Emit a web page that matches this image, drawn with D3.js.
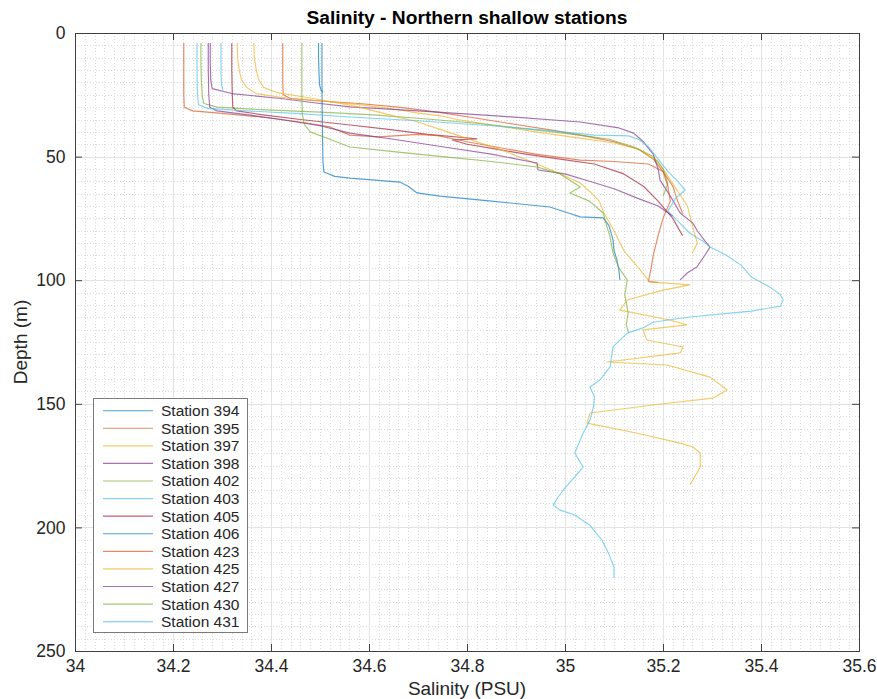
<!DOCTYPE html>
<html>
<head>
<meta charset="utf-8">
<script src="https://cdn.jsdelivr.net/npm/d3@7"></script>
<style>
  html, body { margin: 0; padding: 0; background: #ffffff; }
  svg { display: block; font-family: "Liberation Sans", Arial, Helvetica, sans-serif; }
</style>
</head>
<body>
<svg id="chart" width="877" height="699"></svg>
<script>
// Station names, in plotting order
const stationNames = ["Station 394", "Station 395", "Station 397", "Station 398", "Station 402",
  "Station 403", "Station 405", "Station 406", "Station 423", "Station 425", "Station 427",
  "Station 430", "Station 431"];

// CTD salinity profiles: [depth (m), salinity (PSU)]
const st394 = [[4,34.497],[10,34.497],[16,34.498],[21,34.499],[23,34.502],[24,34.506]];
const st395 = [[4,34.424],[12,34.424],[20,34.424],[25,34.425],[26.5,34.44],[27.5,34.5],[28.5,34.58],[30,34.66],[32,34.74],[34.5,34.82],[37,34.9],[39.5,34.98],[42,35.05],[44,35.1],[47,35.15],[51,35.18],[56,35.2],[62,35.22],[68,35.23],[73,35.24]];
const st397 = [[4,34.331],[10,34.332],[15,34.335],[19,34.34],[22,34.35],[24.5,34.37],[26,34.42],[27.5,34.5],[29,34.58],[31,34.66],[32.4,34.70],[33.5,34.745],[35,34.78],[37.5,34.86],[40,34.94],[42.5,35.03],[44.5,35.1],[47,35.15],[52,35.19],[58,35.21],[64,35.23],[70,35.25],[78,35.26],[85,35.27],[89,35.26]];
const st398 = [[4,34.276],[12,34.276],[19,34.277],[22.5,34.28],[24.5,34.32],[26.5,34.42],[28.5,34.5],[29.9,34.561],[31.5,34.7],[33.5,34.86],[36,35.031],[38.4,35.11],[40.5,35.14],[44,35.16],[49,35.18],[55,35.19],[59.5,35.194],[66,35.215],[72.8,35.235],[76.9,35.261],[80,35.27],[84,35.285],[86.6,35.296],[90,35.285],[94.7,35.269],[97,35.25],[99.9,35.235]];
const st402 = [[4,34.257],[12,34.257],[20,34.258],[26,34.26],[28.5,34.263],[30,34.29],[31,34.38],[32,34.5],[33,34.6],[34.5,34.7],[36.5,34.82],[39,34.93],[41.3,35.031],[43,35.09],[46,35.14],[50,35.18],[55,35.2],[61,35.21],[66,35.2]];
const st403 = [[4,34.298],[10,34.298],[16,34.298],[21,34.299],[23,34.302]];
const st405 = [[4,34.32],[15,34.32],[25,34.321],[30,34.322],[31.5,34.33],[33,34.38],[35,34.46],[37.2,34.561],[39,34.64],[41,34.72],[42.8,34.82],[43.3,34.77],[45,34.8],[47,34.86],[49,34.92],[51,34.99],[53,35.06],[57,35.12],[62,35.16],[68,35.19],[75,35.22],[82,35.24]];
const st406 = [[4,34.504],[20,34.504],[40,34.505],[52,34.506],[56.2,34.508],[58,34.53],[58.7,34.561],[60.3,34.663],[62,34.68],[64.7,34.698],[66,34.745],[68,34.85],[70.4,34.969],[73,35.01],[74.4,35.031],[74.8,35.078],[78,35.09],[83.7,35.098],[88,35.1],[91.8,35.106],[96,35.11],[99.9,35.112]];
const st423 = [[4,34.222],[15,34.222],[25,34.222],[30,34.223],[31.5,34.24],[32.5,34.3],[34,34.38],[36,34.46],[38,34.52],[41.3,34.561],[42,34.62],[41,34.7],[41.5,34.74],[44,34.8],[46.5,34.87],[49,34.94],[51.4,35.031],[52,35.1],[53,35.17],[56,35.2],[62,35.21],[68,35.215],[75,35.2],[82,35.19],[90,35.18],[96,35.175],[100.5,35.17],[101,35.19]];
const st425 = [[4,34.365],[10,34.366],[15,34.37],[19,34.375],[22,34.385],[24,34.41],[26,34.47],[28,34.53],[30,34.58],[33,34.64],[36,34.7],[40,34.76],[44,34.82],[48,34.88],[52,34.93],[56,34.98],[60.7,35.031],[64,35.05],[68,35.07],[73,35.08],[80,35.1],[88,35.12],[95,35.15],[100.7,35.173],[101.9,35.255],[104,35.2],[108,35.127],[112.1,35.112],[116.1,35.214],[118.1,35.249],[120.1,35.159],[124.2,35.167],[127,35.241],[129.4,35.235],[133.1,35.086],[134.3,35.208],[139.2,35.296],[144.4,35.331],[147.7,35.302],[150,35.2],[153.7,35.051],[157.8,35.045],[162,35.15],[165.9,35.235],[167.5,35.261],[169.9,35.276],[175.6,35.276],[180.8,35.261],[182.8,35.255]];
const st427 = [[4,34.272],[15,34.272],[25,34.273],[30,34.275],[31.5,34.29],[33,34.35],[35,34.42],[37.5,34.5],[40.5,34.561],[43,34.65],[46,34.75],[49,34.85],[52.6,34.943],[55.4,34.945],[57,35.0],[60,35.05],[63,35.1],[67,35.15],[70,35.19],[74,35.22]];
const st430 = [[4,34.463],[15,34.463],[25,34.463],[33,34.464],[37,34.468],[40,34.48],[43,34.52],[46.1,34.561],[48,34.65],[50,34.75],[52,34.85],[54.2,34.943],[57,34.99],[62.3,35.031],[64.7,35.01],[68,35.05],[72.8,35.078],[78,35.085],[82.5,35.092],[89,35.098],[95,35.11],[99.9,35.127],[106,35.122],[113.3,35.129],[118,35.125],[121.4,35.13]];
const st431 = [[4,34.249],[15,34.249],[25,34.25],[29,34.252],[30.5,34.27],[31.5,34.35],[32.5,34.45],[34,34.561],[35.5,34.7],[37.5,34.85],[39.5,34.97],[41.3,35.06],[41.6,35.13],[43,35.15],[46,35.17],[51,35.19],[56,35.21],[60,35.23],[63.5,35.245],[67,35.225],[72,35.21],[76,35.23],[81,35.255],[84,35.28],[86.6,35.296],[90,35.33],[94,35.36],[98.7,35.38],[103,35.42],[106,35.44],[108,35.445],[110.5,35.44],[112.5,35.38],[113.3,35.337],[115,35.25],[117,35.18],[119.3,35.159],[121.4,35.127],[127,35.098],[135.1,35.092],[140.4,35.071],[143.2,35.051],[147,35.06],[151.3,35.058],[156.6,35.051],[161.8,35.037],[169.9,35.02],[175.6,35.037],[179.6,35.02],[184,35.0],[188,34.985],[191,34.976],[193,34.99],[195,35.02],[199,35.05],[205,35.075],[211,35.09],[216,35.1],[220.5,35.1]];

const profiles = [st394, st395, st397, st398, st402, st403, st405, st406, st423, st425, st427, st430, st431];

// Axis ticks
const salinityTicks = [34, 34.2, 34.4, 34.6, 34.8, 35, 35.2, 35.4, 35.6];
const depthTicks = [0, 50, 100, 150, 200, 250];

const titleText = "Salinity - Northern shallow stations";
const xLabelText = "Salinity (PSU)";
const yLabelText = "Depth (m)";

// Default line colour cycle
const palette = ["#0072BD", "#D95319", "#EDB120", "#7E2F8E", "#77AC30", "#4DBEEE", "#A2142F"];

const svg = d3.select("#chart");
const m = { left: 75, right: 859, top: 33, bottom: 651 };

const x = d3.scaleLinear().domain([34, 35.6]).range([m.left, m.right]);
const y = d3.scaleLinear().domain([0, 250]).range([m.top, m.bottom]);

// Minor grid (dotted)
const gMinor = svg.append("g").attr("shape-rendering", "crispEdges");
const minorX = d3.range(34, 35.6001, 0.02).filter(v => Math.abs(v / 0.2 - Math.round(v / 0.2)) > 1e-6);
const minorY = d3.range(0, 250.001, 5).filter(v => v % 50 !== 0);
gMinor.selectAll("line.mx").data(minorX).join("line")
  .attr("x1", d => Math.round(x(d)) + 0.5).attr("x2", d => Math.round(x(d)) + 0.5)
  .attr("y1", m.top).attr("y2", m.bottom)
  .attr("stroke", "#dcdcdc").attr("stroke-dasharray", "1,2").attr("stroke-width", 1);
gMinor.selectAll("line.my").data(minorY).join("line")
  .attr("y1", d => Math.round(y(d)) + 0.5).attr("y2", d => Math.round(y(d)) + 0.5)
  .attr("x1", m.left).attr("x2", m.right)
  .attr("stroke", "#dcdcdc").attr("stroke-dasharray", "1,2").attr("stroke-width", 1);

// Major grid
const gGrid = svg.append("g").attr("shape-rendering", "crispEdges");
gGrid.selectAll("line.gx").data(salinityTicks).join("line")
  .attr("x1", d => Math.round(x(d)) + 0.5).attr("x2", d => Math.round(x(d)) + 0.5)
  .attr("y1", m.top).attr("y2", m.bottom)
  .attr("stroke", "#e3e3e3").attr("stroke-width", 1);
gGrid.selectAll("line.gy").data(depthTicks).join("line")
  .attr("y1", d => Math.round(y(d)) + 0.5).attr("y2", d => Math.round(y(d)) + 0.5)
  .attr("x1", m.left).attr("x2", m.right)
  .attr("stroke", "#e3e3e3").attr("stroke-width", 1);

// Profiles
const line = d3.line().x(d => x(d[1])).y(d => y(d[0]));
svg.append("g").selectAll("path").data(profiles).join("path")
  .attr("d", line)
  .attr("fill", "none")
  .attr("stroke", (d, i) => palette[i % palette.length])
  .attr("stroke-opacity", 0.68)
  .attr("stroke-width", 1.15)
  .attr("stroke-linejoin", "round");

// Axes
const axisColor = "#404040";
const fmt = d => d3.format("")(+d.toFixed(1));
function styleAxis(g) {
  g.select(".domain").remove();
  g.selectAll("line").attr("stroke", axisColor);
  g.selectAll("text").attr("fill", "#262626").attr("font-size", "17.5px")
    .attr("font-family", "'Liberation Sans', Arial, sans-serif");
}
svg.append("g").attr("transform", `translate(0,${m.bottom})`)
  .call(d3.axisBottom(x).tickValues(salinityTicks).tickFormat(fmt).tickSizeInner(-7).tickSizeOuter(0).tickPadding(8.5))
  .call(styleAxis);
svg.append("g").attr("transform", `translate(0,${m.top})`)
  .call(d3.axisTop(x).tickValues(salinityTicks).tickFormat("").tickSizeInner(-7).tickSizeOuter(0))
  .call(styleAxis);
svg.append("g").attr("transform", `translate(${m.left},0)`)
  .call(d3.axisLeft(y).tickValues(depthTicks).tickFormat(d3.format("d")).tickSizeInner(-7).tickSizeOuter(0).tickPadding(9.5))
  .call(styleAxis);
svg.append("g").attr("transform", `translate(${m.right},0)`)
  .call(d3.axisRight(y).tickValues(depthTicks).tickFormat("").tickSizeInner(-7).tickSizeOuter(0))
  .call(styleAxis);

// Box
svg.append("rect")
  .attr("x", m.left + 0.5).attr("y", m.top + 0.5)
  .attr("width", m.right - m.left).attr("height", m.bottom - m.top)
  .attr("fill", "none").attr("stroke", axisColor).attr("stroke-width", 1)
  .attr("shape-rendering", "crispEdges");

// Title and axis labels
svg.append("text").attr("x", (m.left + m.right) / 2).attr("y", 24)
  .attr("text-anchor", "middle").attr("font-size", "19.2px").attr("font-weight", "bold")
  .attr("fill", "#000").text(titleText);
svg.append("text").attr("x", (m.left + m.right) / 2).attr("y", 695)
  .attr("text-anchor", "middle").attr("font-size", "19px").attr("fill", "#262626").text(xLabelText);
svg.append("text")
  .attr("transform", `translate(27,${(m.top + m.bottom) / 2}) rotate(-90)`)
  .attr("text-anchor", "middle").attr("font-size", "19px").attr("fill", "#262626").text(yLabelText);

// Legend
const lg = svg.append("g");
const lgX = 93, lgY = 398, lgW = 154, lgH = 234, rowH = 17.58, row0 = 410.7;
lg.append("rect").attr("x", lgX + 0.5).attr("y", lgY + 0.5).attr("width", lgW).attr("height", lgH)
  .attr("fill", "#fff").attr("stroke", "#7a7a7a").attr("stroke-width", 1).attr("shape-rendering", "crispEdges");
const rows = lg.selectAll("g.row").data(stationNames).join("g")
  .attr("transform", (d, i) => `translate(0,${row0 + i * rowH})`);
rows.append("line").attr("x1", 103).attr("x2", 153).attr("y1", 0).attr("y2", 0)
  .attr("stroke", (d, i) => palette[i % palette.length]).attr("stroke-opacity", 0.68).attr("stroke-width", 1.15);
rows.append("text").attr("x", 161).attr("y", 0).attr("dy", "0.35em")
  .attr("font-size", "15.5px").attr("fill", "#262626").text(d => d);
</script>
</body>
</html>
